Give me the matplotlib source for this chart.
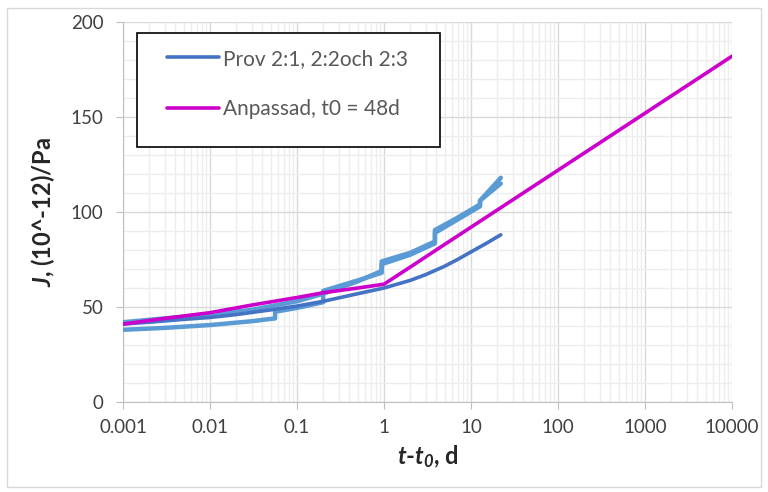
import numpy as np
import matplotlib
matplotlib.use("Agg")
import matplotlib.pyplot as plt
from matplotlib.patches import Rectangle

# prov 2:1 (dark blue, in legend)
t_prov21 = [0.001, 0.002, 0.005, 0.01, 0.02, 0.05, 0.1, 0.2, 0.5, 1, 2, 3, 5, 7, 10, 15, 22]
J_prov21 = [41, 42, 43.5, 44.5, 46, 48.5, 50.5, 53, 57, 60, 64, 67, 71.5, 75, 79, 83.5, 88]

# prov 2:2 and 2:3 (light blue, no legend entry)
t_prov22 = [0.001, 0.003, 0.01, 0.03, 0.1, 0.2, 0.5, 0.94, 0.94, 2, 3.85, 3.85, 7, 12.7, 12.7, 22]
J_prov22 = [42, 44, 46, 48.5, 53, 57, 63.5, 69, 74, 78.5, 84.5, 90.5, 97, 104, 106, 118]
t_prov23 = [0.001, 0.003, 0.01, 0.03, 0.056, 0.056, 0.1, 0.2, 0.2, 0.5, 0.94, 0.94, 2, 3.85, 3.85, 7, 12.7, 12.7, 22]
J_prov23 = [38, 39, 40.5, 42.5, 44, 47.5, 49.5, 52.5, 58.5, 64, 68, 72.5, 77.5, 83.5, 89, 96, 103, 106, 115]

# fitted curve, t0 = 48 d
t_fit = [0.001, 0.003, 0.01, 0.03, 0.1, 0.2, 0.5, 1, 2, 5, 10, 100, 1000, 10000]
J_fit = [41, 44, 47, 51, 55, 57.5, 60, 62, 71, 83, 92, 122, 152, 182]

xticks = [0.001, 0.01, 0.1, 1, 10, 100, 1000, 10000]
xticklabels = ['0.001', '0.01', '0.1', '1', '10', '100', '1000', '10000']
yticks = [0, 50, 100, 150, 200]

plt.rcParams['font.family'] = ['Lato', 'DejaVu Sans']
plt.rcParams['mathtext.fontset'] = 'custom'
plt.rcParams['mathtext.rm'] = 'Lato'
plt.rcParams['mathtext.it'] = 'Lato:italic'
plt.rcParams['mathtext.bf'] = 'Lato:bold'
plt.rcParams['mathtext.bfit'] = 'Lato:italic:bold'

fig = plt.figure(figsize=(7.68, 4.92), dpi=100)
ax = fig.add_axes([123/768, 1-402/492, 609/768, 380/492])

# outer chart frame
fig.patches.append(Rectangle((7/768, 1-487/492), 754/768, 479/492, transform=fig.transFigure,
                             fill=False, edgecolor='#D9D9D9', lw=1))

light = '#5B9BD5'
dark = '#4472C4'
mag = '#CC00CC'

ax.plot(t_prov23, J_prov23, color=light, lw=3.2, solid_capstyle='round', zorder=3)
ax.plot(t_prov22, J_prov22, color=light, lw=3.2, solid_capstyle='round', zorder=3)
ax.plot(t_prov21, J_prov21, color=dark, lw=2.6, solid_capstyle='round', zorder=3,
        label='Prov 2:1, 2:2och 2:3')
ax.plot(t_fit, J_fit, color=mag, lw=2.6, solid_capstyle='round', zorder=3,
        label='Anpassad, t0 = 48d')

ax.set_xscale('log')
ax.set_xlim(0.001, 10000)
ax.set_ylim(0, 200)
ax.set_xticks(xticks)
ax.set_xticklabels(xticklabels)
ax.set_xticks([m*10.0**e for e in range(-3, 4) for m in range(2, 10)], minor=True)
ax.set_yticks(yticks)
ax.set_yticks(np.arange(10, 200, 10), minor=True)

ax.grid(which='major', color='#D9D9D9', lw=1, zorder=0)
ax.grid(which='minor', color='#EDEDED', lw=1, zorder=0)
ax.set_axisbelow(True)

for s in ['top', 'right']:
    ax.spines[s].set_visible(False)
for s in ['left', 'bottom']:
    ax.spines[s].set_color('#BFBFBF')

ax.tick_params(which='major', length=5, color='#BFBFBF', labelsize=13.5, labelcolor='#404040')
ax.tick_params(axis='x', which='major', pad=7)
ax.tick_params(axis='y', which='major', pad=9)
ax.tick_params(which='minor', length=0)

ax.set_xlabel(r'$\mathbfit{t}$-$\mathbfit{t}_{\mathbfit{0}}$, d', fontsize=17, fontweight='bold',
              color='#262626', labelpad=6)
ax.set_ylabel(r'$\mathbfit{J}$, (10^-12)/Pa', fontsize=17, fontweight='bold',
              color='#262626', labelpad=10)

# legend box drawn by hand so padding can differ per side
ax.add_patch(Rectangle((0.023, 0.671), 0.498, 0.30, transform=ax.transAxes,
                       facecolor='white', edgecolor='black', lw=1.2, zorder=4))
leg = ax.legend(loc='upper left', bbox_to_anchor=(0.072, 0.93), frameon=False,
                fontsize=15, handlelength=2.5, handletextpad=0.2, labelspacing=1.45,
                borderpad=0, borderaxespad=0, labelcolor='#595959')
leg.set_zorder(5)

fig.savefig('out.png', dpi=100)
